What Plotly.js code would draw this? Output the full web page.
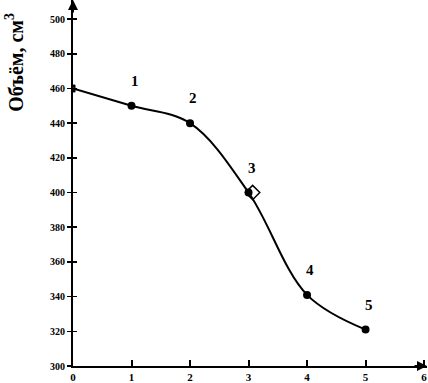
<!DOCTYPE html>
<html><head><meta charset="utf-8">
<script src="https://cdn.plot.ly/plotly-3.0.1.min.js"></script>
<style>html,body{margin:0;padding:0;background:#fff}#c{width:428px;height:383px}</style>
</head><body><div id="c"></div>
<script>
const xVals = [0, 1, 2, 3, 4, 5];
const yVals = [460, 450, 440, 400, 341, 321];
const pointLabels = ['', '1', '2', '3', '4', '5'];
const pointSymbols = ['triangle-left-open', 'circle', 'circle', 'circle', 'circle', 'circle'];
const diamondX = [3.07];
const diamondY = [400];
const xTicks = [0, 1, 2, 3, 4, 5, 6];
const yTicks = [300, 320, 340, 360, 380, 400, 420, 440, 460, 480, 500];
const yTitle = 'Объём, см<sup>3</sup>';

const serif = 'Liberation Serif, Times New Roman, serif';
const traces = [
  {x: xVals, y: yVals, mode: 'lines+markers', line: {shape: 'spline', smoothing: 1, color: '#000', width: 2},
   marker: {symbol: pointSymbols, size: 6, color: '#000', line: {color: '#000', width: 2}}, hoverinfo: 'none'},
  {x: diamondX, y: diamondY, mode: 'markers', marker: {symbol: 'diamond-open', size: 11, color: '#000', line: {width: 1.5, color: '#000'}}, hoverinfo: 'none'},
  {x: [null], y: [null], xaxis: 'x2', yaxis: 'y2', showlegend: false}
];
const annotations = xVals.map((x, i) => ({x: x, y: yVals[i], text: '<b>' + pointLabels[i] + '</b>', showarrow: false,
  xref: 'x', yref: 'y', yshift: 25, xshift: 3, font: {family: serif, size: 15, color: '#000'}})).filter(a => a.text !== '<b></b>');
annotations.push({xref: 'x domain', yref: 'y domain', x: 0, y: 1.0, ax: 0, ay: 14, showarrow: true, arrowhead: 2, arrowsize: 1, arrowwidth: 2, arrowcolor: '#000', text: ''});
annotations.push({xref: 'x domain', yref: 'y domain', x: 1.0, y: 0, ax: -14, ay: 0, showarrow: true, arrowhead: 2, arrowsize: 1, arrowwidth: 2, arrowcolor: '#000', text: ''});

const layout = {
  width: 428, height: 383, margin: {l: 73, r: 1, t: 0, b: 17},
  paper_bgcolor: '#fff', plot_bgcolor: '#fff', showlegend: false,
  xaxis: {range: [0, 6.05], tickvals: xTicks, ticktext: xTicks.map(String), showgrid: false, zeroline: false,
    showline: true, linecolor: '#000', linewidth: 2, ticks: '', ticklabelstandoff: 0,
    tickfont: {family: serif, size: 11, color: '#000', weight: 'bold'}},
  yaxis: {range: [300, 511], tickvals: yTicks, ticktext: yTicks.map(String), showgrid: false, zeroline: false,
    showline: true, linecolor: '#000', linewidth: 2, ticks: 'outside', ticklen: 4, tickwidth: 1.5, tickcolor: '#000',
    tickfont: {family: serif, size: 10, color: '#000', weight: 'bold'}},
  xaxis2: {overlaying: 'x', range: [0, 6.05], tickvals: xTicks, showticklabels: false, showgrid: false, zeroline: false, ticks: 'inside', ticklen: 6, tickwidth: 2, tickcolor: '#000', anchor: 'y2'},
  yaxis2: {overlaying: 'y', range: [300, 511], tickvals: yTicks, showticklabels: false, showgrid: false, zeroline: false, ticks: 'inside', ticklen: 4, tickwidth: 1.5, tickcolor: '#000', anchor: 'x2'},
  annotations: annotations.concat([{xref: 'paper', yref: 'paper', x: -0.165, y: 0.83, xanchor: 'center', yanchor: 'middle',
    textangle: -90, showarrow: false, text: '<b>' + yTitle + '</b>', font: {family: serif, size: 20, color: '#000'}}])
};
Plotly.newPlot('c', traces, layout, {staticPlot: true});
</script></body></html>
